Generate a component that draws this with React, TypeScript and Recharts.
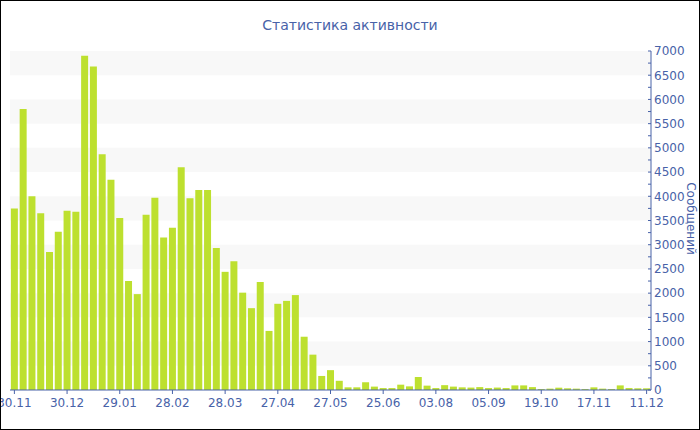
import { Bar, BarChart, XAxis, YAxis, ReferenceArea, Label } from "recharts";

// activity per period, index 0 = 30.11
const messages = [
  3750, 5800, 4000, 3650, 2850, 3270, 3700, 3680, 6900, 6680,
  4870, 4340, 3550, 2250, 1980, 3620, 3970, 3150, 3350, 4600,
  3960, 4130, 4130, 2930, 2440, 2660, 2010, 1690, 2230, 1220,
  1780, 1840, 1960, 1100, 730, 290, 410, 190, 55, 55,
  160, 70, 40, 40, 110, 75, 268, 90, 40, 100,
  70, 55, 50, 60, 40, 50, 40, 95, 95, 60,
  20, 28, 48, 35, 28, 20, 55, 28, 20, 95,
  40, 35, 35,
];

// one label every 6 bars
const tickLabels = [
  "30.11", "30.12", "29.01", "28.02", "28.03", "27.04", "27.05",
  "25.06", "03.08", "05.09", "19.10", "17.11", "11.12",
];

const yTicks = [
  0, 250, 500, 750, 1000, 1250, 1500, 1750, 2000, 2250, 2500, 2750, 3000, 3250, 3500,
  3750, 4000, 4250, 4500, 4750, 5000, 5250, 5500, 5750, 6000, 6250, 6500, 6750, 7000,
];

const stripeStarts = [500, 1500, 2500, 3500, 4500, 5500, 6500];

const data = messages.map((v, i) => ({ idx: i, value: v }));

const BLUE = "#4862a8";
const FONT = "'DejaVu Sans', Verdana, sans-serif";

function YTick(props: any) {
  const { x, y, payload } = props;
  const major = payload.value % 500 === 0;
  return (
    <g>
      <line x1={x - 6} x2={x - 3} y1={y} y2={y} stroke={BLUE} strokeWidth={1} />
      {major && (
        <text x={x} y={y} dy="0.36em" fill={BLUE} fontSize={12} fontFamily={FONT} textAnchor="start">
          {payload.value}
        </text>
      )}
    </g>
  );
}

export default function App() {
  return (
    <div
      style={{
        position: "absolute",
        left: 0,
        top: 0,
        width: 700,
        height: 430,
        boxSizing: "border-box",
        border: "1px solid #000",
        background: "#fff",
        fontFamily: FONT,
      }}
    >
      <div
        style={{
          position: "absolute",
          top: 16,
          left: 0,
          width: 698,
          textAlign: "center",
          fontSize: 14,
          color: BLUE,
        }}
      >
        Статистика активности
      </div>
      <BarChart
        width={698}
        height={428}
        data={data}
        margin={{ top: 50, right: 0, bottom: 0, left: 9 }}
        barCategoryGap="10%"
      >
        {stripeStarts.map((s) => (
          <ReferenceArea key={s} y1={s} y2={s + 500} fill="#f8f8f8" fillOpacity={1} stroke="none" />
        ))}
        <XAxis
          dataKey="idx"
          interval={5}
          height={39}
          tickSize={4}
          tickMargin={4}
          stroke={BLUE}
          tick={{ fill: BLUE, fontSize: 12, fontFamily: FONT }}
          tickFormatter={(v) => tickLabels[v / 6]}
        />
        <YAxis
          orientation="right"
          width={48}
          domain={[0, 7000]}
          ticks={yTicks}
          interval={0}
          tickSize={0}
          tickMargin={3}
          stroke={BLUE}
          tick={<YTick />}
        >
          <Label
            content={(p: any) => {
              const vb = p.viewBox;
              const cx = vb.x + 40;
              const cy = vb.y + vb.height / 2 - 2;
              return (
                <text
                  x={cx}
                  y={cy}
                  transform={`rotate(90, ${cx}, ${cy})`}
                  textAnchor="middle"
                  dy="0.36em"
                  fill={BLUE}
                  fontSize={12}
                  fontFamily={FONT}
                >
                  Сообщений
                </text>
              );
            }}
          />
        </YAxis>
        <Bar dataKey="value" fill="#bde02f" isAnimationActive={false} />
      </BarChart>
    </div>
  );
}
